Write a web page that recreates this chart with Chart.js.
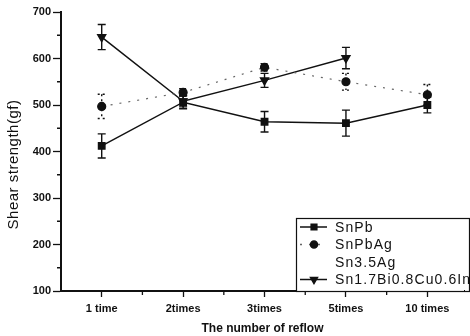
<!DOCTYPE html>
<html>
<head>
<meta charset="utf-8">
<script src="https://cdn.jsdelivr.net/npm/chart.js@4.4.1/dist/chart.umd.min.js"></script>
<style>
  html, body { margin: 0; padding: 0; background: #fff; }
  #wrap { width: 470px; height: 336px; }
</style>
</head>
<body>
<div id="wrap"><canvas id="myChart" width="470" height="336"></canvas></div>
<script>
// values
const categories = ["1 time", "2times", "3times", "5times", "10 times"];
const yTicks = [100, 200, 300, 400, 500, 600, 700];

const snPb = [412, 506, 464, 461, 500];
const snPbErr = [26, 14, 22, 28, 17];

const snPbAg = [497, 527, 581, 550, 522];
const snPbAgErr = [26, 8, 8, 18, 22];

const sn35Ag = [null, null, null, null, null];

const snBiCuIn = [646, 508, 553, 601, null];
const snBiCuInErr = [27, 12, 15, 23, null];

const yTitle = "Shear strength(gf)";

const toPoints = arr => arr.map((v, i) => ({ x: i + 1, y: v }));

const ink = "#111";
const font = "'Liberation Sans', Arial, sans-serif";

// error bars drawn through the scales
const errorBars = {
  id: "errorBars",
  afterDatasetsDraw(chart) {
    const ctx = chart.ctx;
    const xs = chart.scales.x, ys = chart.scales.y;
    chart.data.datasets.forEach(ds => {
      if (!ds.errors) return;
      ctx.save();
      ctx.strokeStyle = ds.errColor || ds.borderColor;
      ctx.lineWidth = 1.4;
      ctx.setLineDash(ds.errDash || []);
      ds.data.forEach((p, i) => {
        const e = ds.errors[i];
        if (p.y == null || e == null) return;
        const px = xs.getPixelForValue(p.x);
        const top = ys.getPixelForValue(p.y + e);
        const bot = ys.getPixelForValue(p.y - e);
        ctx.beginPath();
        ctx.moveTo(px, top); ctx.lineTo(px, bot);
        ctx.moveTo(px - 4, top); ctx.lineTo(px + 4, top);
        ctx.moveTo(px - 4, bot); ctx.lineTo(px + 4, bot);
        ctx.stroke();
      });
      ctx.restore();
    });
  }
};

// short minor ticks between the labelled ones, plus the y title
const minorTicks = {
  id: "minorTicks",
  afterDraw(chart) {
    const ctx = chart.ctx;
    const xs = chart.scales.x, ys = chart.scales.y;
    const area = chart.chartArea;
    ctx.save();
    ctx.strokeStyle = ink;
    ctx.lineWidth = 1.3;
    ctx.beginPath();
    for (let i = 0; i < yTicks.length - 1; i++) {
      const py = ys.getPixelForValue((yTicks[i] + yTicks[i + 1]) / 2);
      ctx.moveTo(area.left - 4, py); ctx.lineTo(area.left, py);
    }
    for (let i = 1; i < categories.length; i++) {
      const px = xs.getPixelForValue(i + 0.5);
      ctx.moveTo(px, area.bottom); ctx.lineTo(px, area.bottom + 4);
    }
    ctx.stroke();

    ctx.translate(14, ys.getPixelForValue(372));
    ctx.rotate(-Math.PI / 2);
    ctx.fillStyle = ink;
    ctx.font = "15px " + font;
    ctx.letterSpacing = "0.5px";
    ctx.textAlign = "center";
    ctx.textBaseline = "middle";
    ctx.fillText(yTitle, 0, 0);
    ctx.restore();
  }
};

// boxed legend sitting on the x axis
const boxLegend = {
  id: "boxLegend",
  afterDraw(chart) {
    const ctx = chart.ctx;
    const area = chart.chartArea;
    const left = area.left + 235, top = area.bottom - 73;
    ctx.save();
    ctx.fillStyle = "#fff";
    ctx.fillRect(left, top, area.right - left, area.bottom - top);
    ctx.strokeStyle = ink;
    ctx.lineWidth = 1.2;
    ctx.strokeRect(left + 0.5, top + 0.5, area.right - left + 5, area.bottom - top);
    chart.data.datasets.forEach((ds, i) => {
      const cy = top + 9 + i * 17.5;
      const x0 = left + 4, x1 = left + 31, mx = left + 18;
      if (ds.legendLine) {
        ctx.strokeStyle = ds.borderColor;
        ctx.lineWidth = 1.5;
        ctx.setLineDash(ds.borderDash || []);
        ctx.beginPath(); ctx.moveTo(x0, cy); ctx.lineTo(x1, cy); ctx.stroke();
        ctx.setLineDash([]);
      }
      if (ds.pointStyle && ds.pointRadius > 0) {
        ctx.fillStyle = ink;
        ctx.strokeStyle = ink;
        Chart.helpers.drawPoint(ctx, {
          pointStyle: ds.pointStyle, radius: ds.pointRadius - 0.5,
          rotation: ds.pointRotation || 0, borderWidth: 1
        }, mx, cy);
      }
      ctx.fillStyle = ink;
      ctx.font = "14px " + font;
      ctx.letterSpacing = "1.1px";
      ctx.textBaseline = "middle";
      ctx.fillText(ds.label, left + 39, cy + 1);
    });
    ctx.restore();
  }
};

const datasets = [
  {
    label: "SnPb", data: toPoints(snPb), errors: snPbErr,
    borderColor: ink, backgroundColor: ink, borderWidth: 1.5,
    pointStyle: "rect", pointRadius: 4.5, legendLine: true
  },
  {
    label: "SnPbAg", data: toPoints(snPbAg), errors: snPbAgErr,
    borderColor: "#666", backgroundColor: ink, borderWidth: 1.2,
    borderDash: [2, 7], errDash: [2, 3], errColor: ink,
    pointStyle: "circle", pointRadius: 4, legendLine: true,
    pointBorderColor: ink
  },
  {
    label: "Sn3.5Ag", data: toPoints(sn35Ag),
    borderColor: "rgba(0,0,0,0)", backgroundColor: "rgba(0,0,0,0)",
    pointRadius: 0, legendLine: false
  },
  {
    label: "Sn1.7Bi0.8Cu0.6In", data: toPoints(snBiCuIn), errors: snBiCuInErr,
    borderColor: ink, backgroundColor: ink, borderWidth: 1.5,
    pointStyle: "triangle", pointRotation: 180, pointRadius: 4.5, legendLine: true
  }
];

new Chart(document.getElementById("myChart").getContext("2d"), {
  type: "line",
  data: { datasets: datasets },
  plugins: [errorBars, minorTicks, boxLegend],
  options: {
    responsive: false,
    animation: false,
    layout: { padding: { top: 12, right: 0, left: 0, bottom: 0 } },
    plugins: { legend: { display: false }, tooltip: { enabled: false } },
    scales: {
      x: {
        type: "linear",
        min: 0.5,
        max: 5.45,
        afterBuildTicks: s => { s.ticks = categories.map((c, i) => ({ value: i + 1 })); },
        afterFit: s => { s.height = 45; },
        border: { color: ink, width: 2 },
        grid: { drawOnChartArea: false, color: ink, tickLength: 6, tickWidth: 1.3 },
        ticks: {
          color: ink, padding: 5, maxRotation: 0,
          font: { family: font, size: 11, weight: "bold" },
          callback: v => categories[v - 1]
        },
        title: {
          display: true, text: "The number of reflow", color: ink,
          font: { family: font, size: 12, weight: "bold" },
          padding: { top: 4, bottom: 0 }
        }
      },
      y: {
        min: 100,
        max: 700,
        afterBuildTicks: s => { s.ticks = yTicks.map(v => ({ value: v })); },
        afterFit: s => { s.width = 61; },
        border: { color: ink, width: 2 },
        grid: { drawOnChartArea: false, color: ink, tickLength: 8, tickWidth: 1.3 },
        ticks: {
          color: ink, padding: 2,
          font: { family: font, size: 11, weight: "bold" }
        }
      }
    }
  }
});
</script>
</body>
</html>
